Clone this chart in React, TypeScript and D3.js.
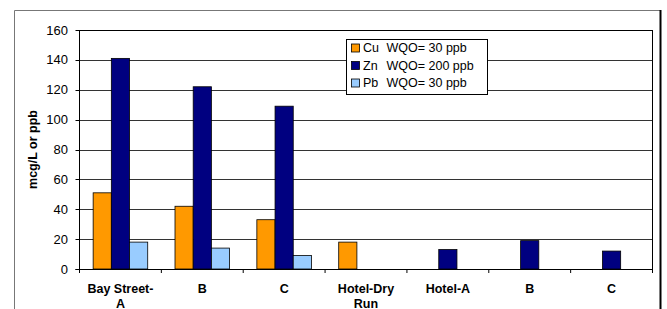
import React from "react";
import * as d3 from "d3";

const categories: string[][] = [["Bay Street-", "A"], ["B"], ["C"], ["Hotel-Dry", "Run"], ["Hotel-A"], ["B"], ["C"]];
const seriesNames = ["Cu", "Zn", "Pb"];
const seriesLabels = ["WQO= 30 ppb", "WQO= 200 ppb", "WQO= 30 ppb"];
const seriesColors = ["#FF9900", "#000080", "#99CCFF"];
const cuValues: (number | null)[] = [51, 42, 33, 18, null, null, null];
const znValues: (number | null)[] = [141, 122, 109, null, 13, 19, 12];
const pbValues: (number | null)[] = [18, 14, 9, null, null, null, null];
const yTicks = [0, 20, 40, 60, 80, 100, 120, 140, 160];

export default function App() {
  const W = 667, H = 309;
  const left = 79.5, right = 652.5, top = 30, bottom = 269;
  const y = d3.scaleLinear().domain([0, 160]).range([bottom, top]);
  const idx = categories.map((_, i) => String(i));
  const x0 = d3.scaleBand().domain(idx).range([left, right]).paddingInner(0).paddingOuter(0);
  const groupPad = x0.bandwidth() * (1.5 / 4.5) / 2;
  const x1 = d3.scaleBand().domain(seriesNames).range([groupPad, x0.bandwidth() - groupPad]);
  const allSeries = [cuValues, znValues, pbValues];
  const font = "Arial, 'Liberation Sans', sans-serif";
  return (
    <svg width={W} height={H} style={{ position: "absolute", left: 0, top: 0, background: "#fff" }} fontFamily={font}>
      {/* outer frame */}
      <line x1={14.5} y1={10.5} x2={660} y2={10.5} stroke="#777" strokeWidth={1} />
      <line x1={14.5} y1={10.5} x2={14.5} y2={H} stroke="#777" strokeWidth={1} />
      <line x1={660.5} y1={10} x2={660.5} y2={H} stroke="#000" strokeWidth={2} />
      {/* gridlines */}
      {yTicks.filter(t => t > 0).map(t => (
        <line key={t} x1={left} x2={right} y1={Math.round(y(t)) + 0.5} y2={Math.round(y(t)) + 0.5} stroke={t === 160 ? "#000" : "#333"} strokeWidth={1} />
      ))}
      <line x1={right} x2={right} y1={top} y2={bottom} stroke="#000" strokeWidth={1} />
      {/* bars */}
      {allSeries.map((vals, s) => vals.map((v, i) => v == null ? null : (
        <rect key={`${s}-${i}`} x={x0(String(i))! + x1(seriesNames[s])!} y={y(v)} width={x1.bandwidth()} height={bottom - y(v)} fill={seriesColors[s]} stroke="#000" strokeWidth={0.8} />
      )))}
      {/* axes */}
      <line x1={left} x2={left} y1={top} y2={bottom} stroke="#000" strokeWidth={1} />
      <line x1={left - 4} x2={right} y1={bottom + 0.5} y2={bottom + 0.5} stroke="#000" strokeWidth={1} />
      {yTicks.map(t => (
        <g key={t}>
          <line x1={left - 4} x2={left} y1={Math.round(y(t)) + 0.5} y2={Math.round(y(t)) + 0.5} stroke="#000" />
          <text x={68} y={y(t)} dy="0.35em" textAnchor="end" fontSize={13} fill="#000">{t}</text>
        </g>
      ))}
      {idx.map(i => (
        <line key={i} x1={x0(i)!} x2={x0(i)!} y1={bottom} y2={bottom + 4} stroke="#000" />
      ))}
      <line x1={right} x2={right} y1={bottom} y2={bottom + 4} stroke="#000" />
      {categories.map((lines, i) => (
        <text key={i} x={x0(String(i))! + x0.bandwidth() / 2} y={292.5} textAnchor="middle" fontSize={12.5} fontWeight="bold" fill="#000">
          {lines.map((l, k) => (
            <tspan key={k} x={x0(String(i))! + x0.bandwidth() / 2} dy={k === 0 ? 0 : 15}>{l}</tspan>
          ))}
        </text>
      ))}
      <text transform={`translate(37,${(top + bottom) / 2}) rotate(-90)`} textAnchor="middle" fontSize={12.5} fontWeight="bold" fill="#000">mcg/L or ppb</text>
      {/* legend */}
      <rect x={346.5} y={39.5} width={141} height={55} fill="#fff" stroke="#000" strokeWidth={1} />
      {seriesNames.map((n, s) => (
        <g key={n}>
          <rect x={351.5} y={44 + s * 17.5} width={8} height={8} fill={seriesColors[s]} stroke="#000" strokeWidth={0.8} />
          <text x={363} y={48 + s * 17.5} dy="0.35em" fontSize={12.5} fill="#000">{n}</text>
          <text x={386.5} y={48 + s * 17.5} dy="0.35em" fontSize={12.5} fill="#000">{seriesLabels[s]}</text>
        </g>
      ))}
    </svg>
  );
}
